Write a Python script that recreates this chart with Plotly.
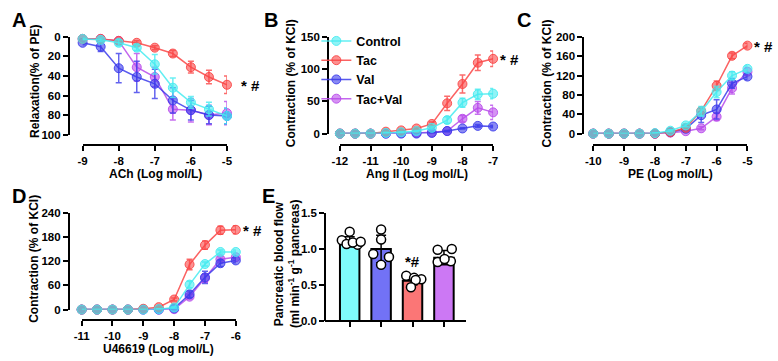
import plotly.graph_objects as go

W, H = 778, 361
FONT = "Arial, Liberation Sans, sans-serif"

groups = ["Control", "Tac", "Val", "Tac+Val"]
line_colors = {"Control": (70, 235, 240), "Tac": (250, 70, 70), "Val": (60, 60, 235), "Tac+Val": (185, 75, 235)}

# Panel A: ACh relaxation
xA = [-9, -8.5, -8, -7.5, -7, -6.5, -6, -5.5, -5]
yA = {"Control": [2, 3, 6, 11, 28, 52, 67, 74, 81],
      "Tac": [2, 2, 4, 6, 11, 17, 31, 41, 49],
      "Val": [6, 10, 32, 41, 48, 65, 75, 80, 81],
      "Tac+Val": [2, 2, 4, 31, 41, 74, 75, 80, 78]}
eA = {"Control": [1, 2, 3, 3, 10, 10, 6, 7, 8],
      "Tac": [1, 1, 2, 2, 2, 3, 6, 7, 9],
      "Val": [2, 5, 15, 16, 15, 13, 10, 9, 8],
      "Tac+Val": [1, 1, 2, 14, 10, 11, 12, 10, 12]}

# Panel B: Ang II contraction
xB = [-12, -11.5, -11, -10.5, -10, -9.5, -9, -8.5, -8, -7.5, -7]
yB = {"Control": [0, 0, 0, 1, 2, 4, 9, 21, 48, 61, 62],
      "Tac": [0, 0, 0, 3, 5, 8, 15, 47, 77, 110, 116],
      "Val": [0, 0, 0, 0, 0, 0, 1, 4, 8, 12, 11],
      "Tac+Val": [0, 0, 0, 0, 1, 1, 2, 4, 23, 40, 33]}
eB = {"Control": [0, 0, 0, 1, 1, 1, 2, 5, 7, 8, 8],
      "Tac": [0, 0, 0, 1, 2, 2, 3, 11, 14, 12, 12],
      "Val": [0, 0, 0, 0, 0, 0, 1, 1, 1, 2, 2],
      "Tac+Val": [0, 0, 0, 0, 0, 0, 1, 1, 5, 10, 11]}

# Panel C: PE contraction
xC = [-10, -9.5, -9, -8.5, -8, -7.5, -7, -6.5, -6, -5.5, -5]
yC = {"Control": [0, 0, 0, 0, 1, 6, 17, 46, 86, 120, 134],
      "Tac": [0, 0, 0, 0, 0, 3, 12, 47, 99, 161, 182],
      "Val": [0, 0, 0, 0, 0, 3, 10, 38, 50, 104, 118],
      "Tac+Val": [0, 0, 0, 0, 0, 2, 5, 11, 35, 94, 128]}
eC = {"Control": [0, 0, 0, 0, 1, 2, 3, 10, 12, 8, 6],
      "Tac": [0, 0, 0, 0, 0, 1, 2, 5, 10, 6, 5],
      "Val": [0, 0, 0, 0, 0, 1, 3, 15, 20, 10, 6],
      "Tac+Val": [0, 0, 0, 0, 0, 1, 2, 3, 8, 12, 8]}

# Panel D: U46619 contraction
xD = [-11, -10.5, -10, -9.5, -9, -8.5, -8, -7.5, -7, -6.5, -6]
yD = {"Control": [0, 0, 0, 0, 0, 1, 5, 62, 113, 143, 143],
      "Tac": [0, 0, 0, 0, 2, 6, 25, 112, 160, 197, 198],
      "Val": [0, 0, 0, 0, 0, 0, 3, 38, 80, 115, 122],
      "Tac+Val": [0, 0, 0, 0, 0, 0, 1, 32, 78, 125, 130]}
eD = {"Control": [0, 0, 0, 0, 0, 1, 2, 8, 5, 5, 5],
      "Tac": [0, 0, 0, 0, 1, 2, 4, 13, 10, 10, 10],
      "Val": [0, 0, 0, 0, 0, 0, 1, 8, 15, 8, 6],
      "Tac+Val": [0, 0, 0, 0, 0, 0, 1, 6, 10, 6, 6]}

# Panel E: pancreatic blood flow
bar_groups = ["Control", "Val", "Tac", "Tac+Val"]
bar_means = [1.10, 1.00, 0.56, 0.88]
bar_sd = [0.07, 0.19, 0.06, 0.10]
bar_points = [[1.24, 1.12, 1.06, 1.07, 1.09, 1.10],
              [1.27, 1.13, 0.93, 0.89, 0.78],
              [0.63, 0.60, 0.58, 0.57, 0.47],
              [0.99, 1.00, 0.82, 0.83, 0.86]]
bar_colors = ["#7ffcfc", "#7272f6", "#fb7676", "#cc78f4"]

tickA = [-9, -8, -7, -6, -5]
tickB = [-12, -11, -10, -9, -8, -7]
tickC = [-10, -9, -8, -7, -6, -5]
tickD = [-11, -10, -9, -8, -7, -6]


def px(p):
    return p / W


def py(p):
    return 1 - p / H


def rgba(c, a):
    return f"rgba({c[0]},{c[1]},{c[2]},{a})"


fig = go.Figure()
layout = {}

tickfont = dict(family=FONT, size=11.5, color="black", weight="bold")

panels = [
    ("", xA, yA, eA, (76, 223), (32, 133), 144, 62, [100, 0], [0, 20, 40, 60, 80, 100], tickA),
    ("2", xB, yB, eB, (338, 494), (32, 132), 144, 326, [0, 150], [0, 50, 100, 150], tickB),
    ("3", xC, yC, eC, (596, 753), (32, 132), 144, 586, [0, 200], [0, 40, 80, 120, 160, 200], tickC),
    ("4", xD, yD, eD, (75, 232), (214, 314), 325, 62, [0, 240], [0, 60, 120, 180, 240], tickD),
]

for pi, (n, xs, ys, es, xd, yd, xpos, ypos, yr, ytv, xt) in enumerate(panels):
    for g in ["Tac+Val", "Val", "Tac", "Control"]:
        c = line_colors[g]
        fig.add_trace(go.Scatter(
            x=xs, y=ys[g], mode="lines+markers", name=g,
            legendgroup=g, showlegend=(pi == 1), legendrank=groups.index(g) + 1,
            xaxis="x" + n, yaxis="y" + n, cliponaxis=False,
            line=dict(color=rgba(c, 0.85), width=1.5),
            marker=dict(size=9, color=rgba(c, 0.6), line=dict(color=rgba(c, 0.9), width=1)),
            error_y=dict(type="data", array=es[g], visible=True, color=rgba(c, 0.8), thickness=1.5, width=3),
        ))
    layout["xaxis" + n] = dict(
        domain=[px(xd[0]), px(xd[1])], range=[xt[0], xt[-1]], anchor="free", position=py(xpos),
        showline=True, linecolor="black", linewidth=2, ticks="outside", ticklen=5, tickwidth=2,
        tickcolor="black", tickvals=xt, ticktext=[str(v) for v in xt], tickfont=tickfont,
        showgrid=False, zeroline=False)
    layout["yaxis" + n] = dict(
        domain=[py(yd[1]), py(yd[0])], range=yr, anchor="free", position=px(ypos),
        showline=True, linecolor="black", linewidth=2, ticks="outside", ticklen=5, tickwidth=2,
        tickcolor="black", tickvals=ytv, ticktext=[str(v) for v in ytv], tickfont=tickfont,
        showgrid=False, zeroline=False)

# Panel E bars
cats = list(range(len(bar_groups)))
fig.add_trace(go.Bar(
    x=cats, y=bar_means, width=0.62, marker=dict(color=bar_colors, line=dict(color="black", width=2)),
    error_y=dict(type="data", array=bar_sd, visible=True, color="black", thickness=1.5, width=5),
    xaxis="x5", yaxis="y5", showlegend=False))
jitter = [[0.0, -0.25, 0.25, -0.1, 0.1, 0.35], [0.0, 0.0, -0.25, 0.25, 0.0],
          [-0.2, 0.05, 0.28, 0.1, -0.05], [-0.2, 0.25, -0.2, 0.22, 0.02]]
px_x, px_y = [], []
for i, pts in enumerate(bar_points):
    for j, v in enumerate(pts):
        px_x.append(cats[i] + jitter[i][j])
        px_y.append(v)
fig.add_trace(go.Scatter(
    x=px_x, y=px_y, mode="markers", xaxis="x5", yaxis="y5", showlegend=False, cliponaxis=False,
    marker=dict(size=9, color="white", line=dict(color="black", width=1.5))))
layout["xaxis5"] = dict(
    domain=[px(323), px(466)], range=[-0.78, 3.69], anchor="free", position=py(326),
    showline=True, linecolor="black", linewidth=2, ticks="outside", ticklen=5, tickwidth=2,
    tickcolor="black", tickvals=cats, showticklabels=False, showgrid=False, zeroline=False)
layout["yaxis5"] = dict(
    domain=[py(326), py(214)], range=[0, 1.5], anchor="free", position=px(323),
    showline=True, linecolor="black", linewidth=2, ticks="outside", ticklen=5, tickwidth=2,
    tickcolor="black", tickvals=[0, 0.5, 1.0, 1.5], ticktext=["0.0", "0.5", "1.0", "1.5"],
    tickfont=tickfont, showgrid=False, zeroline=False)

ann = []


def txt(x, y, s, angle=0, size=12, xa="center", ya="middle"):
    ann.append(dict(x=px(x), y=py(y), xref="paper", yref="paper", text=s, showarrow=False,
                    textangle=angle, xanchor=xa, yanchor=ya,
                    font=dict(family=FONT, size=size, color="black", weight="bold")))


# panel letters
txt(11, 14, "A", size=20)
txt(268, 14, "B", size=20)
txt(525, 14, "C", size=20)
txt(11, 197, "D", size=20)
txt(265, 197, "E", size=20)
# axis titles
txt(28, 78, "Relaxation(% of PE)", angle=-90)
txt(150, 174, "ACh (Log mol/L)")
txt(289, 80, "Contraction (% of KCl)", angle=-90)
txt(416, 174, "Ang II (Log mol/L)")
txt(549, 80, "Contraction (% of KCl)", angle=-90)
txt(675, 174, "PE (Log mol/L)")
txt(27, 262, "Contraction (% of KCl)", angle=-90)
txt(153, 355, "U46619 (Log mol/L)")
txt(276, 267, "Pancreatic blood flow", angle=-90)
txt(291, 267, "(ml min<sup>-1</sup> g<sup>-1</sup> pancreas)", angle=-90)

# significance marks
sig = [("", xA[-1], yA["Tac"][-1], 12), ("2", xB[-1], yB["Tac"][-1], 5),
       ("3", xC[-1], yC["Tac"][-1], 5), ("4", xD[-1], yD["Tac"][-1], 5)]
for n, x, y, sh in sig:
    ann.append(dict(x=x, y=y, xref="x" + n, yref="y" + n, text="* #", showarrow=False,
                    xanchor="left", yanchor="middle", xshift=sh, yshift=-1,
                    font=dict(family=FONT, size=15, color="black", weight="bold")))
ann.append(dict(x=2, y=0.83, xref="x5", yref="y5", text="*#", showarrow=False,
                xanchor="center", yanchor="middle",
                font=dict(family=FONT, size=15, color="black", weight="bold")))

fig.update_layout(
    width=W, height=H, margin=dict(l=0, r=0, t=0, b=0),
    paper_bgcolor="white", plot_bgcolor="white",
    annotations=ann,
    legend=dict(x=px(314), y=py(21), xanchor="left", yanchor="top", bgcolor="rgba(0,0,0,0)",
                font=dict(family=FONT, size=12.5, color="black", weight="bold"),
                itemwidth=30, tracegroupgap=0, traceorder="normal"),
    **layout)

fig.write_html("out.html")
